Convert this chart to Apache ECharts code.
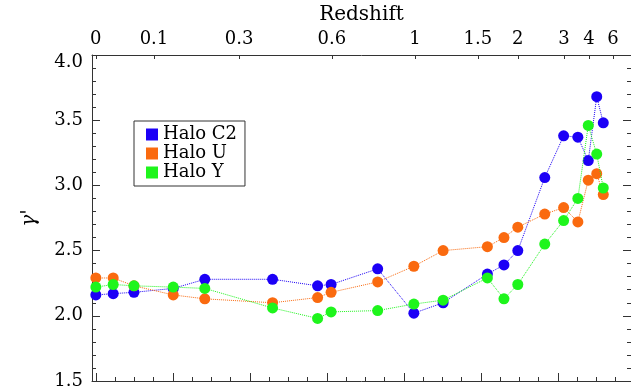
<!DOCTYPE html>
<html>
<head>
<meta charset="utf-8">
<script src="https://cdn.jsdelivr.net/npm/echarts@6/dist/echarts.min.js"></script>
<style>
  html, body { margin: 0; padding: 0; background: #fff; }
  #chart { width: 631px; height: 390px; }
</style>
</head>
<body>
<div id="chart"></div>
<script>
// Snapshot epochs, as lookback time (Gyr)
const lookbackGyr = [0.00, 0.45, 0.99, 2.01, 2.83, 4.59, 5.76, 6.11, 7.32, 8.26,
                     9.02, 10.17, 10.60, 10.96, 11.66, 12.15, 12.52, 12.79, 13.01, 13.18];

// Density slope gamma' for each halo
const haloC2 = [2.16, 2.17, 2.18, 2.21, 2.28, 2.28, 2.23, 2.24, 2.36, 2.02,
                2.10, 2.32, 2.39, 2.50, 3.06, 3.38, 3.37, 3.19, 3.68, 3.48];
const haloU  = [2.29, 2.29, 2.23, 2.16, 2.13, 2.10, 2.14, 2.18, 2.26, 2.38,
                2.50, 2.53, 2.60, 2.68, 2.78, 2.83, 2.72, 3.04, 3.09, 2.93];
const haloY  = [2.22, 2.24, 2.23, 2.22, 2.21, 2.06, 1.98, 2.03, 2.04, 2.09,
                2.12, 2.29, 2.13, 2.24, 2.55, 2.73, 2.90, 3.46, 3.24, 2.98];

// Redshift scale on the top axis, placed at the matching lookback time
const redshiftLabels  = ['0', '0.1', '0.3', '0.6', '1', '1.5', '2', '3', '4', '6'];
const redshiftTickGyr = [0, 1.51, 3.72, 6.13, 8.29, 9.92, 10.96, 12.16, 12.81, 13.43];

// Bottom axis ticks (Gyr)
const majorTimeTicks = [0, 2, 4, 6, 8, 10, 12];
const minorTimeTicks = [0.5, 1, 1.5, 2.5, 3, 3.5, 4.5, 5, 5.5, 6.5, 7, 7.5,
                        8.5, 9, 9.5, 10.5, 11, 11.5, 12.5, 13, 13.5];

const seriesNames  = ['Halo C2', 'Halo U', 'Halo Y'];
const seriesValues = [haloC2, haloU, haloY];
const seriesColors = ['#1c00f6', '#fa6a0f', '#1ef51c'];

const FONT = 'DejaVu Serif';
const AXIS_COLOR = '#333';
const T_MIN = -0.1, T_MAX = 13.9;

const chart = echarts.init(document.getElementById('chart'), null, { renderer: 'canvas' });

function timeAxis(extra) {
  return Object.assign({
    type: 'value', min: T_MIN, max: T_MAX, gridIndex: 0,
    splitLine: { show: false },
    axisLine: { show: true, onZero: false, lineStyle: { color: AXIS_COLOR, width: 1 } },
    axisLabel: { show: false }
  }, extra);
}

function gammaAxis(extra) {
  return Object.assign({
    type: 'value', min: 1.5, max: 4.0, interval: 0.5, gridIndex: 0,
    splitLine: { show: false },
    axisLine: { show: true, onZero: false, lineStyle: { color: AXIS_COLOR, width: 1 } },
    axisTick: { show: true, inside: true, length: 8, lineStyle: { color: AXIS_COLOR } },
    minorTick: { show: true, splitNumber: 5, length: 4, lineStyle: { color: AXIS_COLOR } }
  }, extra);
}

chart.setOption({
  animation: false,
  backgroundColor: '#fff',
  grid: { left: 92, right: 0, top: 55, height: 335.5 },
  xAxis: [
    timeAxis({
      position: 'bottom',
      axisTick: { show: true, inside: true, length: 8, customValues: majorTimeTicks,
                  lineStyle: { color: AXIS_COLOR } }
    }),
    timeAxis({
      position: 'bottom',
      axisLine: { show: false },
      axisTick: { show: true, inside: true, length: 4, customValues: minorTimeTicks,
                  lineStyle: { color: AXIS_COLOR } }
    }),
    timeAxis({
      position: 'top',
      name: 'Redshift',
      nameLocation: 'middle',
      nameGap: 24,
      nameTextStyle: { fontFamily: FONT, fontSize: 20, color: '#000' },
      axisTick: { show: true, inside: true, length: 4, customValues: redshiftTickGyr,
                  lineStyle: { color: AXIS_COLOR } },
      axisLabel: {
        show: true, margin: 7, customValues: redshiftTickGyr,
        fontFamily: FONT, fontSize: 18, color: '#000',
        formatter: v => redshiftLabels[redshiftTickGyr.indexOf(v)]
      }
    })
  ],
  yAxis: [
    gammaAxis({
      position: 'left',
      name: "\u03b3'",
      nameLocation: 'middle',
      nameGap: 52,
      nameRotate: 90,
      nameTextStyle: { fontFamily: FONT, fontSize: 20, fontStyle: 'italic', color: '#000' },
      axisLabel: {
        show: true, margin: 9, fontFamily: FONT, fontSize: 18, color: '#000',
        formatter: v => (Math.abs(v - 4) < 1e-9 ? '{top|' + v.toFixed(1) + '}' : v.toFixed(1)),
        rich: { top: { fontFamily: FONT, fontSize: 18, color: '#000', padding: [14, 0, 0, 0] } }
      }
    }),
    gammaAxis({ position: 'right', axisLabel: { show: false } })
  ],
  legend: {
    orient: 'vertical',
    left: 134, top: 121,
    icon: 'rect',
    itemWidth: 12, itemHeight: 12, itemGap: 0,
    padding: [4, 8, 4, 12],
    borderColor: AXIS_COLOR, borderWidth: 1,
    backgroundColor: '#fff',
    textStyle: { fontFamily: FONT, fontSize: 18, lineHeight: 19, color: '#000' },
    data: seriesNames
  },
  series: seriesNames.map((name, k) => ({
    type: 'line',
    name: name,
    xAxisIndex: 0, yAxisIndex: 0,
    data: lookbackGyr.map((t, i) => [t, seriesValues[k][i]]),
    symbol: 'circle',
    symbolSize: 11,
    itemStyle: { color: seriesColors[k] },
    lineStyle: { type: 'dotted', width: 1, color: seriesColors[k] },
    z: 2 + k
  }))
});
</script>
</body>
</html>
